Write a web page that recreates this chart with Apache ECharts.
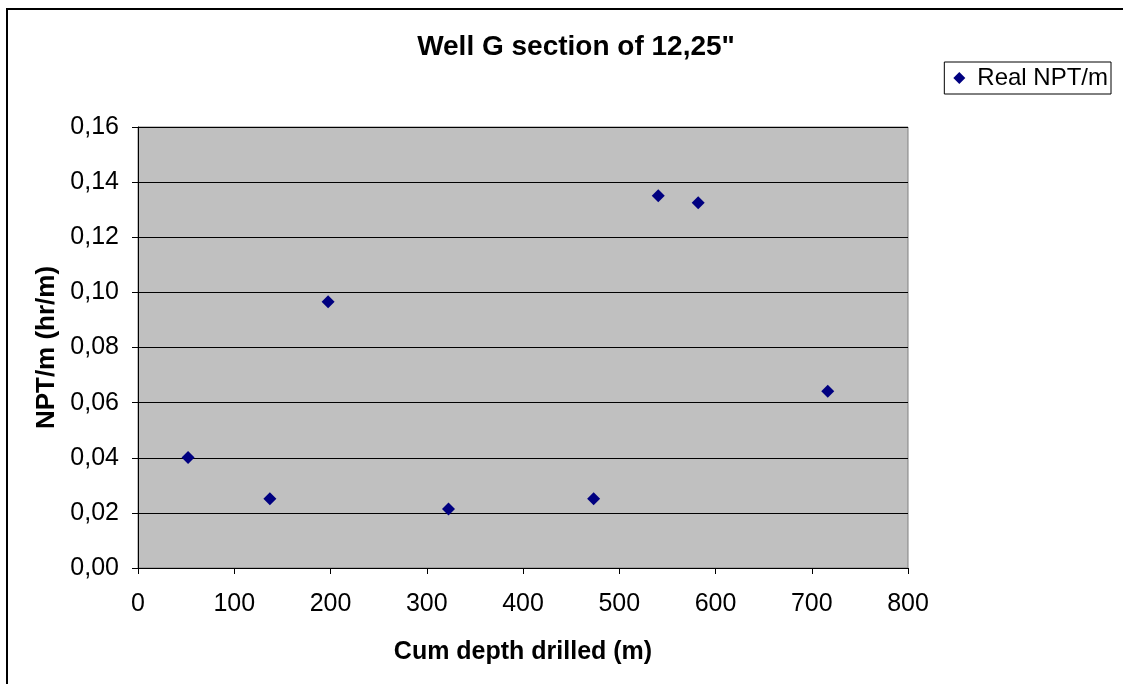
<!DOCTYPE html>
<html>
<head>
<meta charset="utf-8">
<script src="https://cdn.jsdelivr.net/npm/echarts@6/dist/echarts.min.js"></script>
<style>
html,body{margin:0;padding:0;background:#fff;}
#c{width:1123px;height:684px;}
</style>
</head>
<body>
<div id="c"></div>
<script>
const depth = [52, 137, 197.5, 322.6, 473.4, 540.5, 582, 716.6];
const nptPerM = [0.0401, 0.0251, 0.0966, 0.0214, 0.0251, 0.1351, 0.1325, 0.0641];
const seriesName = 'Real NPT/m';
const titleText = 'Well G section of 12,25"';
const xName = 'Cum depth drilled (m)';
const yName = 'NPT/m (hr/m)';

const points = depth.map((d, i) => [d, nptPerM[i]]);
const font = 'Arial, "Liberation Sans", sans-serif';

const chart = echarts.init(document.getElementById('c'), null, {renderer: 'canvas'});
chart.setOption({
  animation: false,
  backgroundColor: '#fff',
  title: {
    text: titleText,
    left: 576, top: 33, textAlign: 'center', padding: 0,
    textStyle: {fontFamily: font, fontSize: 28, fontWeight: 'bold', color: '#000'}
  },
  legend: {
    right: 12, top: 62,
    data: [{name: seriesName, icon: 'diamond'}],
    itemWidth: 12, itemHeight: 12, itemGap: 5,
    padding: [4, 3, 4, 9],
    borderColor: '#000', borderWidth: 1, borderRadius: 0,
    textStyle: {fontFamily: font, fontSize: 24, color: '#000', padding: [0, 0, 0, 7]}
  },
  grid: {left: 138, top: 127, right: 215, bottom: 116, show: true, backgroundColor: '#C0C0C0', borderWidth: 1, borderColor: '#808080'},
  xAxis: {
    type: 'value', min: 0, max: 800, interval: 100,
    name: xName, nameLocation: 'middle', nameGap: 72,
    nameTextStyle: {fontFamily: font, fontSize: 25, fontWeight: 'bold', color: '#000'},
    axisLine: {show: true, lineStyle: {color: '#000', width: 1}},
    axisTick: {show: true, inside: false, length: 6, lineStyle: {color: '#000'}},
    axisLabel: {fontFamily: font, fontSize: 25, color: '#000', margin: 24},
    splitLine: {show: false}
  },
  yAxis: {
    type: 'value', min: 0, max: 0.16, interval: 0.02,
    name: yName, nameLocation: 'middle', nameGap: 78, nameRotate: 90,
    nameTextStyle: {fontFamily: font, fontSize: 26, fontWeight: 'bold', color: '#000'},
    axisLine: {show: true, lineStyle: {color: '#000', width: 1}},
    axisTick: {show: true, inside: false, length: 6, lineStyle: {color: '#000'}},
    axisLabel: {fontFamily: font, fontSize: 25, color: '#000', margin: 19,
      formatter: v => v.toFixed(2).replace('.', ',')},
    splitLine: {show: true, lineStyle: {color: '#000', width: 1}}
  },
  series: [{
    name: seriesName, type: 'scatter', data: points,
    symbol: 'diamond', symbolSize: 13,
    itemStyle: {color: '#000080', opacity: 1}
  }],
  graphic: [{
    type: 'rect', silent: true, z: 100,
    shape: {x: 7, y: 9, width: 1140, height: 700},
    style: {fill: 'none', stroke: '#000', lineWidth: 2}
  }]
});
</script>
</body>
</html>
